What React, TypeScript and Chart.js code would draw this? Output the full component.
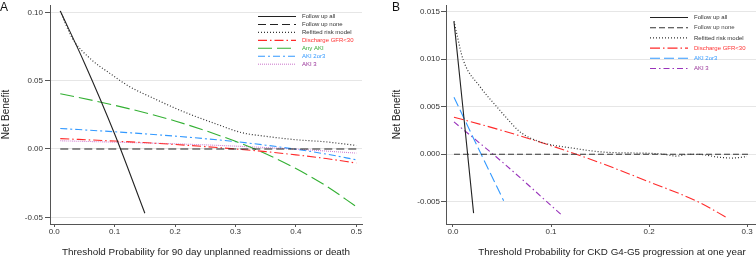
import React, { useEffect, useRef } from 'react';
import { Chart, registerables } from 'chart.js';

Chart.register(...registerables);

const FONT = "'Liberation Sans', Arial, Helvetica, sans-serif";

// ---------- Panel A data ----------
const A_xTicks = [0, 0.1, 0.2, 0.3, 0.4, 0.5];
const A_xTickLabels = ['0.0', '0.1', '0.2', '0.3', '0.4', '0.5'];
const A_yTicks = [-0.05, 0, 0.05, 0.1];
const A_yTickLabels = ['-0.05', '0.00', '0.05', '0.10'];

const A_allX = [0.01, 0.05, 0.1, 0.15];
const A_allY = [0.101, 0.063, 0.011, -0.047];
const A_noneX = [0.01, 0.5];
const A_noneY = [0, 0];
const A_refitX = [0.01, 0.03, 0.06, 0.09, 0.125, 0.16, 0.21, 0.27, 0.31, 0.35, 0.4, 0.45, 0.5];
const A_refitY = [0.101, 0.081, 0.066, 0.056, 0.0456, 0.038, 0.028, 0.018, 0.012, 0.0093, 0.0068, 0.0052, 0.0026];
const A_gfrX = [0.01, 0.1, 0.2, 0.3, 0.35, 0.4, 0.45, 0.5];
const A_gfrY = [0.0076, 0.0058, 0.0033, 0.0, -0.0019, -0.0043, -0.007, -0.0103];
const A_anyAkiX = [0.01, 0.1, 0.2, 0.3, 0.35, 0.4, 0.45, 0.5];
const A_anyAkiY = [0.0405, 0.032, 0.0205, 0.0056, -0.0035, -0.0143, -0.027, -0.0422];
const A_aki23X = [0.01, 0.1, 0.2, 0.3, 0.35, 0.4, 0.45, 0.5];
const A_aki23Y = [0.015, 0.0126, 0.0094, 0.0054, 0.0028, -0.0002, -0.0037, -0.0079];
const A_aki3X = [0.01, 0.1, 0.2, 0.3, 0.4, 0.5];
const A_aki3Y = [0.006, 0.005, 0.0038, 0.0021, -0.0001, -0.003];

// ---------- Panel B data ----------
const B_xTicks = [0, 0.1, 0.2, 0.3];
const B_xTickLabels = ['0.0', '0.1', '0.2', '0.3'];
const B_yTicks = [-0.005, 0, 0.005, 0.01, 0.015];
const B_yTickLabels = ['-0.005', '0.000', '0.005', '0.010', '0.015'];

const B_allX = [0.001, 0.01, 0.021];
const B_allY = [0.01395, 0.005, -0.0062];
const B_noneX = [0.001, 0.303];
const B_noneY = [0, 0];
const B_refitX = [0.001, 0.0038, 0.0105, 0.0276, 0.0446, 0.0548, 0.0677, 0.0888, 0.1228, 0.157, 0.2, 0.215, 0.228, 0.24, 0.255, 0.27, 0.285, 0.3];
const B_refitY = [0.014, 0.0127, 0.0099, 0.0071, 0.005, 0.0038, 0.0024, 0.0013, 0.00063, 0.0002, 0.0001, 0.0, -0.0002, 0.0, -0.00005, -0.0003, -0.0004, -0.00025];
const B_gfrX = [0.001, 0.05, 0.1, 0.15, 0.2, 0.25, 0.28];
const B_gfrY = [0.0039, 0.0025, 0.0009, -0.0009, -0.0029, -0.005, -0.0067];
const B_aki23X = [0.001, 0.025, 0.0517];
const B_aki23Y = [0.006, 0.0008, -0.0049];
const B_aki3X = [0.001, 0.05, 0.111];
const B_aki3Y = [0.0034, -0.0008, -0.0064];

const LABEL_ALL = 'Follow up all';
const LABEL_NONE = 'Follow up none';
const LABEL_REFIT = 'Refitted risk model';
const LABEL_GFR = 'Discharge GFR<30';
const LABEL_ANY = 'Any AKI';
const LABEL_AKI23 = 'AKI 2or3';
const LABEL_AKI3 = 'AKI 3';

const pts = (xs: number[], ys: number[]) => xs.map((x, i) => ({ x, y: ys[i] }));

type Style = { color: string; text: string; dash: number[]; width: number };

function ds(label: string, xs: number[], ys: number[], st: Style) {
  return {
    label,
    data: pts(xs, ys),
    borderColor: st.color,
    backgroundColor: st.color,
    borderDash: st.dash,
    borderWidth: st.width,
    pointRadius: 0,
    fill: false,
    cubicInterpolationMode: 'monotone' as const,
    textColor: st.text,
  };
}

function legendPlugin(id: string, cfg: { x0: number; x1: number; tx: number; y0: number; dy: number }) {
  return {
    id,
    afterDatasetsDraw(chart: any) {
      const ctx = chart.ctx as CanvasRenderingContext2D;
      ctx.save();
      ctx.font = `6px ${FONT}`;
      ctx.textBaseline = 'middle';
      ctx.textAlign = 'left';
      chart.data.datasets.forEach((d: any, i: number) => {
        const y = cfg.y0 + i * cfg.dy;
        ctx.beginPath();
        ctx.setLineDash(d.borderDash || []);
        ctx.strokeStyle = d.borderColor;
        ctx.lineWidth = d.borderWidth;
        ctx.moveTo(cfg.x0, y);
        ctx.lineTo(cfg.x1, y);
        ctx.stroke();
        ctx.setLineDash([]);
        ctx.fillStyle = d.textColor;
        ctx.fillText(d.label, cfg.tx, y);
      });
      ctx.restore();
    },
  };
}

function zeroPad(s: any) {
  s.paddingTop = 0;
  s.paddingBottom = 0;
  s.paddingLeft = 0;
  s.paddingRight = 0;
}

function makeConfig(p: {
  datasets: any[];
  xMin: number; xMax: number; yMin: number; yMax: number;
  xTicks: number[]; xTickLabels: string[]; yTicks: number[]; yTickLabels: string[];
  yAxisWidth: number; yTickLen: number; yTickPad: number; yTitlePad: number;
  xTitle: string; xTitleSize: number; padRight: number; legend: any;
}) {
  return {
    type: 'line' as const,
    data: { datasets: p.datasets },
    plugins: [p.legend],
    options: {
      animation: false as const,
      responsive: false,
      maintainAspectRatio: false,
      events: [],
      layout: { padding: { top: 5, right: p.padRight, bottom: 0, left: 0 } },
      plugins: { legend: { display: false }, tooltip: { enabled: false }, title: { display: false } },
      elements: { line: { tension: 0 }, point: { radius: 0 } },
      scales: {
        x: {
          type: 'linear' as const,
          position: 'bottom' as const,
          min: p.xMin,
          max: p.xMax,
          afterBuildTicks: (s: any) => { s.ticks = p.xTicks.map((v) => ({ value: v })); },
          afterFit: (s: any) => { s.height = 34; zeroPad(s); },
          ticks: {
            autoSkip: false,
            maxRotation: 0,
            padding: 0,
            color: '#333',
            font: { family: FONT, size: 8 },
            callback: (_v: any, i: number) => p.xTickLabels[i],
          },
          grid: { drawOnChartArea: false, color: '#555', tickColor: '#555', tickLength: 3, lineWidth: 1 },
          border: { display: true, color: '#555', width: 1 },
          title: {
            display: true,
            text: p.xTitle,
            color: '#222',
            font: { family: FONT, size: p.xTitleSize },
            padding: { top: 0, bottom: 0 },
          },
        },
        y: {
          type: 'linear' as const,
          position: 'left' as const,
          min: p.yMin,
          max: p.yMax,
          afterBuildTicks: (s: any) => { s.ticks = p.yTicks.map((v) => ({ value: v })); },
          afterFit: (s: any) => { s.width = p.yAxisWidth; zeroPad(s); },
          ticks: {
            autoSkip: false,
            padding: p.yTickPad,
            color: '#333',
            font: { family: FONT, size: 8 },
            callback: (_v: any, i: number) => p.yTickLabels[i],
          },
          grid: { color: '#e6e6e6', tickColor: '#555', tickLength: p.yTickLen, lineWidth: 1 },
          border: { display: true, color: '#555', width: 1 },
          title: {
            display: true,
            text: 'Net Benefit',
            color: '#222',
            font: { family: FONT, size: 10 },
            padding: { top: p.yTitlePad, bottom: 0 },
          },
        },
      },
    },
  };
}

const S = {
  all: { color: '#222', text: '#333', dash: [], width: 1.1 },
  none: { color: '#222', text: '#333', dash: [8, 4], width: 1.1 },
  refit: { color: '#333', text: '#333', dash: [1, 2], width: 1.2 },
  gfr: { color: '#ff2a2a', text: '#ff3333', dash: [9, 3, 1.5, 3], width: 1.1 },
  any: { color: '#33b033', text: '#33aa33', dash: [14, 5], width: 1.1 },
  aki23A: { color: '#3399ff', text: '#3399ff', dash: [7, 3, 2, 3], width: 1.1 },
  aki3A: { color: '#d080d0', text: '#993399', dash: [1, 1], width: 1.1 },
  noneB: { color: '#333', text: '#444', dash: [6, 3], width: 1.1 },
  gfrB: { color: '#ff2a2a', text: '#ff3333', dash: [10, 3, 1.5, 3], width: 1.1 },
  aki23B: { color: '#3399ff', text: '#3399ff', dash: [10, 4], width: 1.1 },
  aki3B: { color: '#9933bb', text: '#993399', dash: [6, 3, 1.5, 3], width: 1.1 },
};

function PanelChart({ config, left, width }: { config: any; left: number; width: number }) {
  const ref = useRef<HTMLCanvasElement | null>(null);
  useEffect(() => {
    if (!ref.current) return;
    const chart = new Chart(ref.current, config);
    return () => chart.destroy();
  }, [config]);
  return (
    <canvas
      ref={ref}
      width={width}
      height={258}
      style={{ position: 'absolute', left, top: 0, width, height: 258 }}
    />
  );
}

const configA = makeConfig({
  datasets: [
    ds(LABEL_ALL, A_allX, A_allY, S.all),
    ds(LABEL_NONE, A_noneX, A_noneY, S.none),
    ds(LABEL_REFIT, A_refitX, A_refitY, S.refit),
    ds(LABEL_GFR, A_gfrX, A_gfrY, S.gfr),
    ds(LABEL_ANY, A_anyAkiX, A_anyAkiY, S.any),
    ds(LABEL_AKI23, A_aki23X, A_aki23Y, S.aki23A),
    ds(LABEL_AKI3, A_aki3X, A_aki3Y, S.aki3A),
  ],
  xMin: -0.007, xMax: 0.5094, yMin: -0.0549, yMax: 0.1054,
  xTicks: A_xTicks, xTickLabels: A_xTickLabels, yTicks: A_yTicks, yTickLabels: A_yTickLabels,
  yAxisWidth: 50, yTickLen: 5, yTickPad: 2, yTitlePad: 0,
  xTitle: 'Threshold Probability for 90 day unplanned readmissions or death',
  xTitleSize: 9.9,
  padRight: 14,
  legend: legendPlugin('legendA', { x0: 258, x1: 296, tx: 302, y0: 16.5, dy: 7.95 }),
});

const configB = makeConfig({
  datasets: [
    ds(LABEL_ALL, B_allX, B_allY, S.all),
    ds(LABEL_NONE, B_noneX, B_noneY, S.noneB),
    ds(LABEL_REFIT, B_refitX, B_refitY, S.refit),
    ds(LABEL_GFR, B_gfrX, B_gfrY, S.gfrB),
    ds(LABEL_AKI23, B_aki23X, B_aki23Y, S.aki23B),
    ds(LABEL_AKI3, B_aki3X, B_aki3Y, S.aki3B),
  ],
  xMin: -0.00714, xMax: 0.3316, yMin: -0.00734, yMax: 0.0157,
  xTicks: B_xTicks, xTickLabels: B_xTickLabels, yTicks: B_yTicks, yTickLabels: B_yTickLabels,
  yAxisWidth: 70, yTickLen: 5, yTickPad: 1, yTitlePad: 15,
  xTitle: 'Threshold Probability for CKD G4-G5 progression at one year',
  xTitleSize: 9.8,
  padRight: 0,
  legend: legendPlugin('legendB', { x0: 274, x1: 312, tx: 318, y0: 17.5, dy: 10.2 }),
});

export default function App() {
  return (
    <div
      style={{
        position: 'fixed',
        left: 0,
        top: 0,
        width: 756,
        height: 258,
        overflow: 'hidden',
        background: '#fff',
        fontFamily: FONT,
      }}
    >
      <PanelChart config={configA} left={0} width={376} />
      <PanelChart config={configB} left={376} width={402} />
      <div style={{ position: 'absolute', left: 0, top: 1, fontSize: 12, lineHeight: '12px', color: '#111' }}>A</div>
      <div style={{ position: 'absolute', left: 392, top: 1, fontSize: 12, lineHeight: '12px', color: '#111' }}>B</div>
    </div>
  );
}
